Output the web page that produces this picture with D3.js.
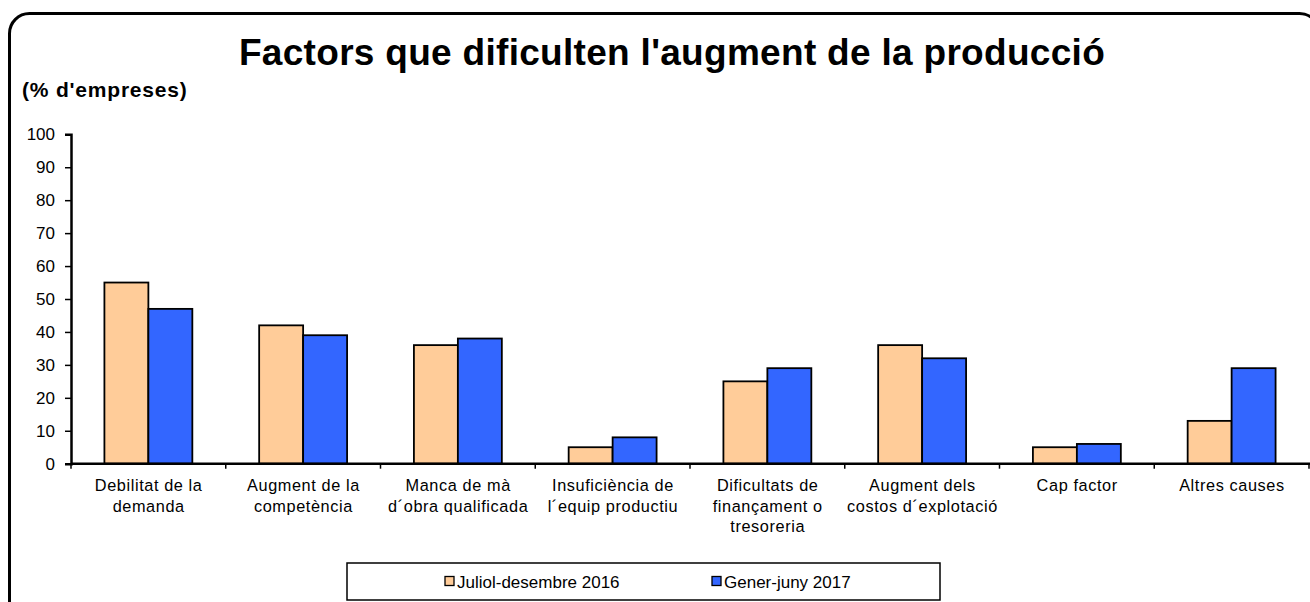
<!DOCTYPE html>
<html><head><meta charset="utf-8">
<script src="https://cdn.jsdelivr.net/npm/d3@7"></script>
<style>
html,body{margin:0;padding:0;background:#fff;}
svg{display:block;font-family:"Liberation Sans",Arial,sans-serif;}
</style></head>
<body>
<svg id="c" width="1310" height="602"></svg>
<script>
const categories = ["Debilitat de la\ndemanda","Augment de la\ncompetència","Manca de mà\nd´obra qualificada","Insuficiència de\nl´equip productiu","Dificultats de\nfinançament o\ntresoreria","Augment dels\ncostos d´explotació","Cap factor","Altres causes"];
const seriesNames = ["Juliol-desembre 2016","Gener-juny 2017"];
const serie2016 = [55,42,36,5,25,36,5,13];
const serie2017 = [47,39,38,8,29,32,6,29];
const yTicks = [0,10,20,30,40,50,60,70,80,90,100];
const colors = ["#FFCC99","#3366FF"];

const svg = d3.select("#c");
// frame
svg.append("rect").attr("x",9.5).attr("y",13.5).attr("width",1310).attr("height",620)
  .attr("rx",20).attr("fill","#fff").attr("stroke","#000").attr("stroke-width",3);

svg.append("text").attr("x",672).attr("y",65).attr("text-anchor","middle")
  .attr("font-size",37).attr("font-weight","bold").attr("letter-spacing",0.3)
  .text("Factors que dificulten l'augment de la producció");
svg.append("text").attr("x",22).attr("y",97).attr("font-size",21).attr("font-weight","bold")
  .attr("letter-spacing",0.8).text("(% d'empreses)");

const y = d3.scaleLinear().domain([0,100]).range([463.7,134.3]);
const x0 = d3.scaleBand().domain(categories).range([71,1309]).padding(0);
const x1 = d3.scaleBand().domain(seriesNames).range([0,x0.bandwidth()]).paddingInner(0).paddingOuter(0.76);

const data = categories.map((c,i)=>({c, vals:[serie2016[i],serie2017[i]]}));
const g = svg.append("g");
g.selectAll("g.cat").data(data).join("g").attr("class","cat")
  .attr("transform",d=>`translate(${x0(d.c)},0)`)
  .selectAll("rect").data(d=>d.vals.map((v,j)=>({v,j}))).join("rect")
  .attr("x",d=>x1(seriesNames[d.j])).attr("width",x1.bandwidth())
  .attr("y",d=>y(d.v)).attr("height",d=>y(0)-y(d.v))
  .attr("fill",d=>colors[d.j]).attr("stroke","#000").attr("stroke-width",1.8);

// y axis
const ya = svg.append("g").attr("transform","translate(71,0)")
  .call(d3.axisLeft(y).tickValues(yTicks).tickSize(6).tickPadding(10));
ya.select(".domain").attr("stroke-width",2.5);
ya.selectAll(".tick line").attr("stroke-width",1.5);
ya.selectAll("text").attr("font-size",17).attr("fill","#000").attr("font-family","Liberation Sans, Arial, sans-serif");

// x axis
const xa = svg.append("g").attr("transform",`translate(0,${y(0)})`);
xa.append("line").attr("x1",71).attr("x2",1310).attr("stroke","#000").attr("stroke-width",2.5);
const bounds = categories.map(c=>x0(c)).concat([x0.range()[1]]);
xa.selectAll("line.tk").data(bounds).join("line").attr("class","tk")
  .attr("x1",d=>d).attr("x2",d=>d).attr("y1",0).attr("y2",5).attr("stroke","#000").attr("stroke-width",1.5);
xa.selectAll("text.lab").data(categories).join("text").attr("class","lab")
  .attr("text-anchor","middle").attr("font-size",16.3).attr("letter-spacing",0.6)
  .attr("transform",d=>`translate(${x0(d)+x0.bandwidth()/2+0.3},0)`)
  .each(function(d){
    const t=d3.select(this);
    d.split("\n").forEach((ln,i)=>t.append("tspan").attr("x",0).attr("y",27.5+i*20.5).text(ln));
  });

// legend
const lg = svg.append("g");
lg.append("rect").attr("x",347).attr("y",563).attr("width",593).attr("height",37)
  .attr("fill","#fff").attr("stroke","#000").attr("stroke-width",1.5);
const lx = [445,712];
seriesNames.forEach((s,i)=>{
  lg.append("rect").attr("x",lx[i]).attr("y",576.5).attr("width",9).attr("height",9)
    .attr("fill",colors[i]).attr("stroke","#000").attr("stroke-width",1.3);
  lg.append("text").attr("x",lx[i]+12).attr("y",588).attr("font-size",17).attr("letter-spacing",0).text(s);
});
</script>
</body></html>
